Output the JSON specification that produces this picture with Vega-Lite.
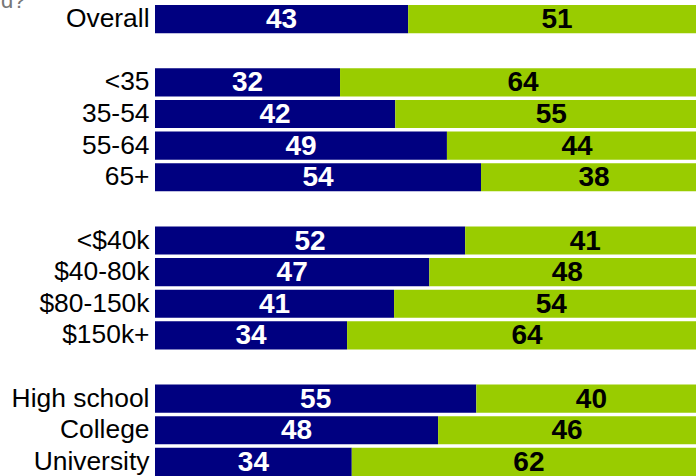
{
  "$schema": "https://vega.github.io/schema/vega-lite/v6.json",
  "autosize": {"type": "none"},
  "padding": {"left": 155, "top": 5, "right": 0, "bottom": 0},
  "width": 541,
  "height": 471,
  "background": "white",
  "data": {
    "values": [
      {"group": "Overall", "response": "Yes", "ord": 1, "value": 43.1, "label": 43},
      {"group": "Overall", "response": "No", "ord": 2, "value": 50.7, "label": 51},
      {"group": "<35", "response": "Yes", "ord": 1, "value": 31.5, "label": 32},
      {"group": "<35", "response": "No", "ord": 2, "value": 62.3, "label": 64},
      {"group": "35-54", "response": "Yes", "ord": 1, "value": 40.9, "label": 42},
      {"group": "35-54", "response": "No", "ord": 2, "value": 53.1, "label": 55},
      {"group": "55-64", "response": "Yes", "ord": 1, "value": 49.7, "label": 49},
      {"group": "55-64", "response": "No", "ord": 2, "value": 44.3, "label": 44},
      {"group": "65+", "response": "Yes", "ord": 1, "value": 55.5, "label": 54},
      {"group": "65+", "response": "No", "ord": 2, "value": 38.5, "label": 38},
      {"group": "<$40k", "response": "Yes", "ord": 1, "value": 52.8, "label": 52},
      {"group": "<$40k", "response": "No", "ord": 2, "value": 40.9, "label": 41},
      {"group": "$40-80k", "response": "Yes", "ord": 1, "value": 46.7, "label": 47},
      {"group": "$40-80k", "response": "No", "ord": 2, "value": 47.0, "label": 48},
      {"group": "$80-150k", "response": "Yes", "ord": 1, "value": 40.7, "label": 41},
      {"group": "$80-150k", "response": "No", "ord": 2, "value": 53.5, "label": 54},
      {"group": "$150k+", "response": "Yes", "ord": 1, "value": 32.7, "label": 34},
      {"group": "$150k+", "response": "No", "ord": 2, "value": 61.3, "label": 64},
      {"group": "High school", "response": "Yes", "ord": 1, "value": 54.7, "label": 55},
      {"group": "High school", "response": "No", "ord": 2, "value": 39.2, "label": 40},
      {"group": "College", "response": "Yes", "ord": 1, "value": 48.2, "label": 48},
      {"group": "College", "response": "No", "ord": 2, "value": 43.9, "label": 46},
      {"group": "University", "response": "Yes", "ord": 1, "value": 33.5, "label": 34},
      {"group": "University", "response": "No", "ord": 2, "value": 60.3, "label": 62}
    ]
  },
  "encoding": {
    "y": {
      "field": "group",
      "type": "nominal",
      "scale": {
        "domain": ["Overall", " ", "<35", "35-54", "55-64", "65+", "  ", "<$40k", "$40-80k", "$80-150k", "$150k+", "   ", "High school", "College", "University"],
        "paddingInner": 0.11,
        "paddingOuter": 0
      },
      "axis": {
        "title": "d?",
        "titleAngle": 0,
        "titleAlign": "right",
        "titleBaseline": "alphabetic",
        "titleX": -130,
        "titleY": 2,
        "titleColor": "#777777",
        "titleFont": "Liberation Sans",
        "titleFontSize": 22,
        "titleFontWeight": "normal",
        "ticks": false,
        "domain": false,
        "labelPadding": 6,
        "labelFont": "Liberation Sans",
        "labelFontSize": 26.4,
        "labelColor": "#000000",
        "labelLimit": 0,
        "labelOverlap": false
      }
    },
    "x": {
      "field": "value",
      "type": "quantitative",
      "stack": "zero",
      "scale": {"domain": [0, 92.1], "nice": false, "zero": true},
      "axis": null
    },
    "order": {"field": "ord", "type": "quantitative"}
  },
  "layer": [
    {
      "mark": {"type": "bar", "clip": true},
      "encoding": {
        "color": {
          "field": "response",
          "type": "nominal",
          "scale": {"domain": ["Yes", "No"], "range": ["#000080", "#99CC00"]},
          "legend": null
        }
      }
    },
    {
      "mark": {
        "type": "text",
        "font": "Liberation Sans",
        "fontSize": 28,
        "fontWeight": "bold",
        "baseline": "middle",
        "dy": 1
      },
      "encoding": {
        "x": {
          "field": "value",
          "type": "quantitative",
          "stack": "zero",
          "bandPosition": 0.5
        },
        "detail": {"field": "response"},
        "text": {"field": "label", "type": "quantitative"},
        "color": {
          "condition": {"test": "datum.response === 'Yes'", "value": "#ffffff"},
          "value": "#000000"
        }
      }
    }
  ],
  "config": {"view": {"stroke": null}}
}
